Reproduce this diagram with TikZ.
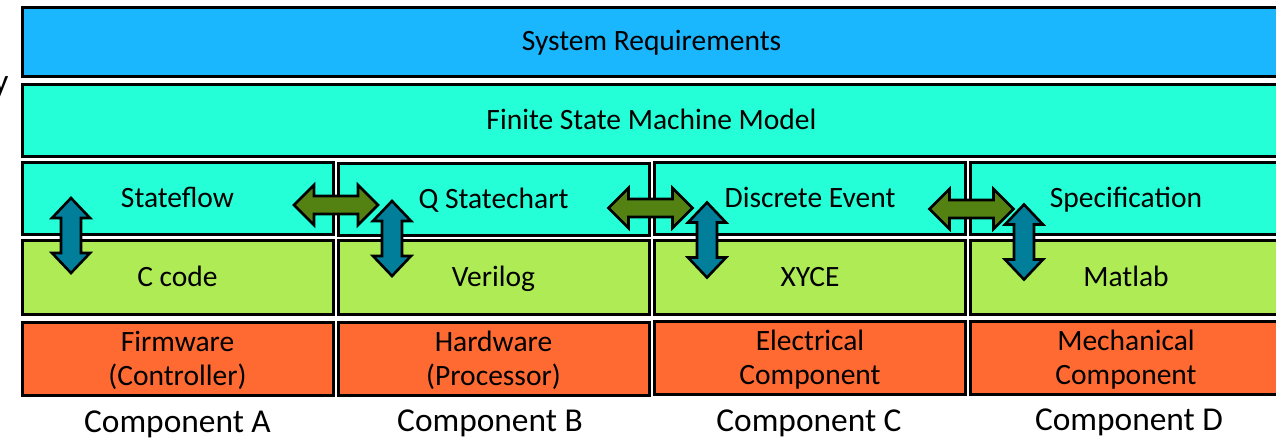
\documentclass[tikz,border=0pt]{standalone}
\usepackage{fontspec}
\setmainfont{Carlito}
\definecolor{reqblue}{HTML}{1AB7FF}
\definecolor{fsmcyan}{HTML}{25FFD7}
\definecolor{codegreen}{HTML}{AEEB55}
\definecolor{domorange}{HTML}{FF6A33}
\definecolor{linkgreen}{HTML}{538213}
\definecolor{linkblue}{HTML}{007E9A}
\begin{document}
\begin{tikzpicture}[x=0.5pt,y=-0.5pt,
  box/.style={draw=black, line width=1.5pt, rectangle, inner sep=0pt, align=center,
    font=\fontsize{14.75}{16}\selectfont},
  oneline/.style={text height=0.95em, text depth=0.03em},
  widebox/.style={box, oneline, minimum width=629.5pt},
  colbox/.style={box, minimum width=155.5pt},
  reqbox/.style={widebox, fill=reqblue, minimum height=34.5pt},
  fsmbox/.style={widebox, fill=fsmcyan, minimum height=36pt},
  modelbox/.style={colbox, oneline, fill=fsmcyan, minimum height=36pt},
  codebox/.style={colbox, oneline, fill=codegreen, minimum height=37pt},
  domainbox/.style={colbox, fill=domorange, minimum height=36.5pt,
    font=\fontsize{14.75}{17}\selectfont},
  complabel/.style={inner sep=0pt, anchor=base, font=\fontsize{16.7}{18}\selectfont},
  linkline/.style={draw=black, line width=1.3pt, line join=miter},
  pics/vlink/.style={code={
    \draw[linkline, fill=linkblue] (0,-37.5) -- ++(19,20) -- ++(-9,0) -- ++(0,35)
      -- ++(9,0) -- ++(-19,20) -- ++(-19,-20) -- ++(9,0) -- ++(0,-35) -- ++(-9,0) -- cycle;}},
  pics/hlink/.style={code={
    \draw[linkline, fill=linkgreen] (-42,0) -- ++(20,-20) -- ++(0,11) -- ++(44,0)
      -- ++(0,-11) -- ++(20,20) -- ++(-20,20) -- ++(0,-11) -- ++(-44,0) -- ++(0,11) -- cycle;}}
]
\useasboundingbox (0,0) rectangle (1276,440);
\clip (0,0) rectangle (1276,440);

% cut-off letter at the left margin
\node[complabel] (edge) at (1,92) {y};

% shared layers
\node[reqbox] (req) at (651.5,41.5) {System Requirements};
\node[fsmbox] (fsm) at (651.5,120) {Finite State Machine Model};

% model layer
\node[modelbox] (mA) at (177.5,198) {Stateflow};
\node[modelbox] (mB) at (493.5,199) {Q Statechart};
\node[modelbox] (mC) at (810,198) {Discrete Event};
\node[modelbox] (mD) at (1126,198) {Specification};

% implementation layer
\node[codebox] (cA) at (177.5,277) {C code};
\node[codebox] (cB) at (493.5,277.5) {Verilog};
\node[codebox] (cC) at (810,277) {XYCE};
\node[codebox] (cD) at (1126,277.5) {Matlab};

% physical domain layer (box outline fixed, text lowered slightly)
\node[domainbox] (dA) at (177.5,358.5) {};
\node[domainbox] (dB) at (493.5,358.5) {};
\node[domainbox] (dC) at (810,358) {};
\node[domainbox] (dD) at (1126,357.5) {};
\node[domainbox, draw=none, fill=none] (tA) at ([yshift=-1pt]dA.center) {Firmware\\(Controller)};
\node[domainbox, draw=none, fill=none] (tB) at ([yshift=-1pt]dB.center) {Hardware\\(Processor)};
\node[domainbox, draw=none, fill=none] (tC) at ([yshift=-1pt]dC.center) {Electrical\\Component};
\node[domainbox, draw=none, fill=none] (tD) at ([yshift=-1pt]dD.center) {Mechanical\\Component};

% component names
\node[complabel] (nA) at (177.5,432) {Component A};
\node[complabel] (nB) at (490,431) {Component B};
\node[complabel] (nC) at (809,431) {Component C};
\node[complabel] (nD) at (1129,430) {Component D};

% exchanges between neighbouring model layers
\pic (hAB) at (336,205) {hlink};
\pic (hBC) at (650.5,208) {hlink};
\pic (hCD) at (971.5,209) {hlink};

% model-to-code transformations
\pic (vA) at (71,235.5) {vlink};
\pic (vB) at (392,238.5) {vlink};
\pic (vC) at (707,240) {vlink};
\pic (vD) at (1024,242) {vlink};
\end{tikzpicture}
\end{document}
